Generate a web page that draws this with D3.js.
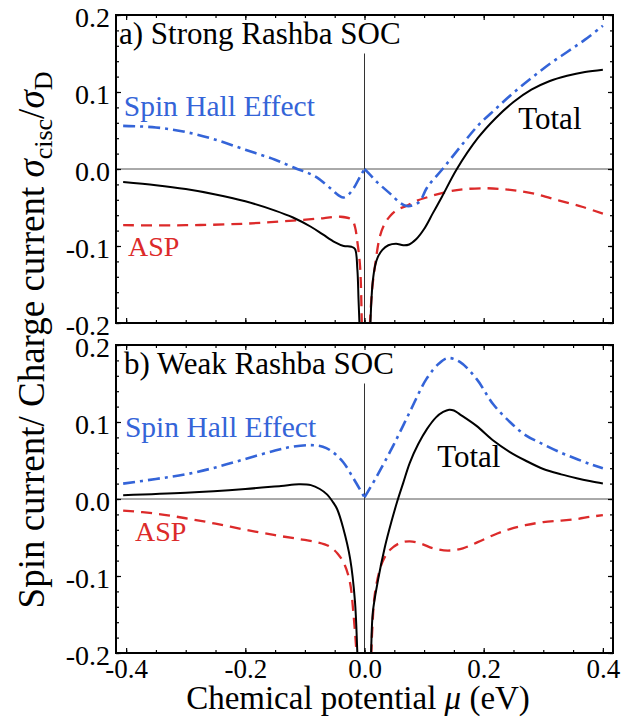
<!DOCTYPE html>
<html>
<head>
<meta charset="utf-8">
<script src="https://cdn.jsdelivr.net/npm/d3@7"></script>
<style>
  body { margin: 0; background: #fff; }
  text { font-family: "Liberation Serif", "Times New Roman", serif; }
</style>
</head>
<body>
<script>
'use strict';

// axis ticks and labels
const muTicks = [-0.4, -0.2, 0.0, 0.2, 0.4];
const valTicks = [-0.2, -0.1, 0.0, 0.1, 0.2];

// a) strong Rashba SOC, [mu (eV), sigma_cisc / sigma_D]
const strongShe = [[-0.405, 0.056], [-0.35, 0.054], [-0.30, 0.048], [-0.25, 0.038], [-0.20, 0.025],
  [-0.15, 0.012], [-0.113, 0.0], [-0.095, -0.005], [-0.08, -0.011], [-0.065, -0.020], [-0.053, -0.028],
  [-0.044, -0.034], [-0.036, -0.037], [-0.028, -0.034], [-0.019, -0.026], [-0.0075, -0.010], [0.0, 0.0]];
const strongSheRight = [[0.0, 0.0], [0.01, -0.008], [0.021, -0.017], [0.043, -0.032], [0.060, -0.044],
  [0.071, -0.048], [0.082, -0.047], [0.093, -0.042], [0.105, -0.024], [0.131, 0.0], [0.16, 0.028],
  [0.19, 0.056], [0.22, 0.078], [0.25, 0.099], [0.28, 0.118], [0.31, 0.136], [0.34, 0.152], [0.37, 0.168],
  [0.40, 0.186]];
const strongAsp = [[-0.405, -0.073], [-0.30, -0.073], [-0.20, -0.071], [-0.12, -0.067], [-0.07, -0.064],
  [-0.04, -0.062], [-0.021, -0.066], [-0.016, -0.075], [-0.0126, -0.091], [-0.0075, -0.126],
  [-0.0045, -0.2], [-0.003, -0.25]];
const strongAspRight = [[0.007, -0.25], [0.0092, -0.2], [0.013, -0.155], [0.0176, -0.126], [0.026, -0.087],
  [0.034, -0.071], [0.043, -0.061], [0.055, -0.053], [0.070, -0.048], [0.085, -0.042], [0.104, -0.037],
  [0.142, -0.029], [0.17, -0.026], [0.204, -0.025], [0.23, -0.026], [0.255, -0.028], [0.29, -0.033],
  [0.327, -0.041], [0.365, -0.049], [0.40, -0.058]];
const strongTotal = [[-0.405, -0.017], [-0.35, -0.021], [-0.30, -0.026], [-0.25, -0.033], [-0.20, -0.042],
  [-0.15, -0.054], [-0.12, -0.063], [-0.09, -0.075], [-0.07, -0.085], [-0.05, -0.095], [-0.035, -0.100],
  [-0.022, -0.101], [-0.016, -0.104], [-0.012, -0.130], [-0.010, -0.170], [-0.008, -0.21], [-0.006, -0.26]];
const strongTotalRight = [[0.008, -0.26], [0.010, -0.20], [0.012, -0.165], [0.014, -0.145], [0.018, -0.125],
  [0.022, -0.115], [0.030, -0.105], [0.040, -0.099], [0.053, -0.097], [0.065, -0.099], [0.075, -0.098],
  [0.087, -0.091], [0.10, -0.078], [0.115, -0.057], [0.13, -0.036], [0.155, 0.000], [0.19, 0.040],
  [0.22, 0.066], [0.25, 0.087], [0.28, 0.103], [0.31, 0.114], [0.34, 0.121], [0.37, 0.126], [0.40, 0.129]];

// b) weak Rashba SOC
const weakShe = [[-0.405, 0.020], [-0.35, 0.026], [-0.30, 0.032], [-0.25, 0.041], [-0.20, 0.052],
  [-0.15, 0.063], [-0.12, 0.068], [-0.09, 0.070], [-0.07, 0.068], [-0.055, 0.062], [-0.036, 0.048],
  [-0.018, 0.026], [0.0, 0.002]];
const weakSheRight = [[0.0, 0.002], [0.021, 0.030], [0.048, 0.069], [0.076, 0.113], [0.104, 0.156],
  [0.125, 0.176], [0.140, 0.183], [0.160, 0.178], [0.188, 0.156], [0.216, 0.123], [0.244, 0.100],
  [0.27, 0.083], [0.30, 0.071], [0.33, 0.060], [0.356, 0.052], [0.38, 0.045], [0.40, 0.040]];
const weakAsp = [[-0.405, -0.015], [-0.35, -0.019], [-0.30, -0.025], [-0.25, -0.032], [-0.20, -0.040],
  [-0.15, -0.047], [-0.11, -0.052], [-0.08, -0.056], [-0.06, -0.061], [-0.045, -0.071], [-0.033, -0.086],
  [-0.024, -0.110], [-0.019, -0.145], [-0.0135, -0.2], [-0.011, -0.25]];
const weakAspRight = [[0.009, -0.25], [0.0115, -0.2], [0.013, -0.170], [0.018, -0.120], [0.030, -0.082],
  [0.043, -0.066], [0.060, -0.057], [0.076, -0.055], [0.095, -0.058], [0.115, -0.064], [0.140, -0.067],
  [0.165, -0.064], [0.190, -0.056], [0.216, -0.047], [0.244, -0.039], [0.27, -0.034], [0.30, -0.030],
  [0.33, -0.028], [0.356, -0.026], [0.38, -0.023], [0.40, -0.021]];
const weakTotal = [[-0.405, 0.005], [-0.30, 0.008], [-0.20, 0.013], [-0.14, 0.017], [-0.11, 0.019],
  [-0.09, 0.018], [-0.075, 0.013], [-0.063, 0.006], [-0.053, -0.004], [-0.046, -0.013], [-0.036, -0.037],
  [-0.024, -0.078], [-0.016, -0.133], [-0.012, -0.2], [-0.009, -0.26]];
const weakTotalRight = [[0.008, -0.26], [0.011, -0.2], [0.014, -0.147], [0.023, -0.104], [0.034, -0.063],
  [0.045, -0.030], [0.055, -0.003], [0.065, 0.021], [0.076, 0.047], [0.090, 0.071], [0.105, 0.091],
  [0.120, 0.106], [0.132, 0.113], [0.142, 0.116], [0.150, 0.115], [0.160, 0.110], [0.188, 0.095],
  [0.216, 0.076], [0.244, 0.061], [0.27, 0.050], [0.30, 0.039], [0.33, 0.032], [0.356, 0.027],
  [0.38, 0.023], [0.40, 0.020]];

// colours
let blue = "#3464d8";
let red = "#dc2a2a";

// page size and panel frames
let width = 629, height = 717;
let frameLeft = 116, frameRight = 613;

let svg = d3.select("body").append("svg")
  .attr("width", width)
  .attr("height", height);

let x = d3.scaleLinear().domain([-0.417, 0.417]).range([frameLeft, frameRight]);

let fmt = d => d3.format(".1f")(d).replace("\u2212", "-");

let panels = [
  {
    id: "a", top: 15, bottom: 323, title: "a) Strong Rashba SOC", titleDx: 3,
    she: [strongShe, strongSheRight], asp: [strongAsp, strongAspRight], total: [strongTotal, strongTotalRight],
    sheLabel: [-0.404, 0.069], aspLabel: [-0.397, -0.113], totalLabel: [0.258, 0.052]
  },
  {
    id: "b", top: 345, bottom: 653, title: "b) Weak Rashba SOC", titleDx: 8,
    she: [weakShe, weakSheRight], asp: [weakAsp, weakAspRight], total: [weakTotal, weakTotalRight],
    sheLabel: [-0.402, 0.081], aspLabel: [-0.385, -0.055], totalLabel: [0.122, 0.042]
  }
];

panels.forEach((p, i) => drawPanel(p, i === panels.length - 1));
drawLabels();

function drawPanel(p, showMu) {
  let y = d3.scaleLinear().domain([-0.2, 0.2]).range([p.bottom, p.top]);
  let g = svg.append("g");

  g.append("clipPath").attr("id", "clip-" + p.id)
    .append("rect")
    .attr("x", frameLeft).attr("y", p.top)
    .attr("width", frameRight - frameLeft).attr("height", p.bottom - p.top);

  // zero lines
  g.append("line")
    .attr("x1", frameLeft).attr("x2", frameRight)
    .attr("y1", y(0)).attr("y2", y(0))
    .attr("stroke", "#555").attr("stroke-width", 1);
  g.append("line")
    .attr("x1", x(0)).attr("x2", x(0))
    .attr("y1", y(0.15)).attr("y2", y(-0.2))
    .attr("stroke", "#333").attr("stroke-width", 1);

  // curves
  let line = d3.line()
    .x(d => x(d[0]))
    .y(d => y(d[1]))
    .curve(d3.curveCatmullRom.alpha(0.5));
  let curves = g.append("g").attr("clip-path", "url(#clip-" + p.id + ")");

  p.asp.forEach(seg => curves.append("path")
    .attr("d", line(seg)).attr("fill", "none")
    .attr("stroke", red).attr("stroke-width", 2.3)
    .attr("stroke-dasharray", "11,7"));
  p.she.forEach(seg => curves.append("path")
    .attr("d", line(seg)).attr("fill", "none")
    .attr("stroke", blue).attr("stroke-width", 2.6)
    .attr("stroke-dasharray", "12,5,3,5"));
  p.total.forEach(seg => curves.append("path")
    .attr("d", line(seg)).attr("fill", "none")
    .attr("stroke", "#000").attr("stroke-width", 2));

  // frame ticks, pointing inward on all four sides
  let frameTicks = [
    [d3.axisBottom(x), p.bottom, muTicks, x.ticks(16)],
    [d3.axisTop(x), p.top, muTicks, x.ticks(16)],
    [d3.axisLeft(y), frameLeft, valTicks, y.ticks(20)],
    [d3.axisRight(y), frameRight, valTicks, y.ticks(20)]
  ];
  frameTicks.forEach((t, k) => {
    let pos = k < 2 ? "translate(0," + t[1] + ")" : "translate(" + t[1] + ",0)";
    [[t[2], -5], [t[3], -3]].forEach(set => {
      g.append("g")
        .attr("transform", pos)
        .call(t[0].tickValues(set[0]).tickSize(set[1]).tickFormat(""))
        .call(a => a.select(".domain").remove())
        .selectAll("line").attr("stroke", "#000").attr("stroke-width", 1.2);
    });
  });

  // frame
  g.append("rect")
    .attr("x", frameLeft).attr("y", p.top)
    .attr("width", frameRight - frameLeft).attr("height", p.bottom - p.top)
    .attr("fill", "none").attr("stroke", "#000").attr("stroke-width", 2);

  // y tick labels
  g.append("g")
    .attr("transform", "translate(" + frameLeft + ",0)")
    .call(d3.axisLeft(y).tickValues(valTicks).tickSize(0).tickPadding(6).tickFormat(fmt))
    .call(a => a.select(".domain").remove())
    .selectAll("text")
    .attr("dy", "0.42em")
    .style("font-family", "'Liberation Serif', serif")
    .style("font-size", "28px")
    .attr("fill", "#000");

  // mu tick labels on the bottom panel only
  if (showMu) {
    g.append("g")
      .attr("transform", "translate(0," + p.bottom + ")")
      .call(d3.axisBottom(x).tickValues(muTicks).tickSize(0).tickPadding(6).tickFormat(fmt))
      .call(a => a.select(".domain").remove())
      .selectAll("text")
      .style("font-family", "'Liberation Serif', serif")
      .style("font-size", "27px")
      .attr("fill", "#000");
  }

  // panel title and curve labels
  g.append("text")
    .attr("x", frameLeft + p.titleDx).attr("y", p.top + 29)
    .style("font-size", "31px")
    .text(p.title);
  g.append("text")
    .attr("x", x(p.sheLabel[0])).attr("y", y(p.sheLabel[1]))
    .style("font-size", "29.5px").attr("fill", blue)
    .text("Spin Hall Effect");
  g.append("text")
    .attr("x", x(p.aspLabel[0])).attr("y", y(p.aspLabel[1]))
    .style("font-size", "28px").attr("fill", red)
    .text("ASP");
  g.append("text")
    .attr("x", x(p.totalLabel[0])).attr("y", y(p.totalLabel[1]))
    .style("font-size", "31px").attr("fill", "#000")
    .text("Total");
}

// axis titles
function drawLabels() {
  let yl = svg.append("text")
    .attr("transform", "translate(44,340) rotate(-90)")
    .style("text-anchor", "middle")
    .style("font-size", "37px");
  yl.append("tspan").text("Spin current/ Charge current ");
  yl.append("tspan").style("font-style", "italic").text("\u03c3");
  yl.append("tspan").attr("dy", 8).style("font-size", "26px").text("cisc");
  yl.append("tspan").attr("dy", -8).text("/");
  yl.append("tspan").style("font-style", "italic").text("\u03c3");
  yl.append("tspan").attr("dy", 8).style("font-size", "26px").text("D");

  let xl = svg.append("text")
    .attr("x", 358).attr("y", 709)
    .style("text-anchor", "middle")
    .style("font-size", "33px");
  xl.append("tspan").text("Chemical potential ");
  xl.append("tspan").style("font-style", "italic").text("\u03bc");
  xl.append("tspan").text(" (eV)");
}
</script>
</body>
</html>
